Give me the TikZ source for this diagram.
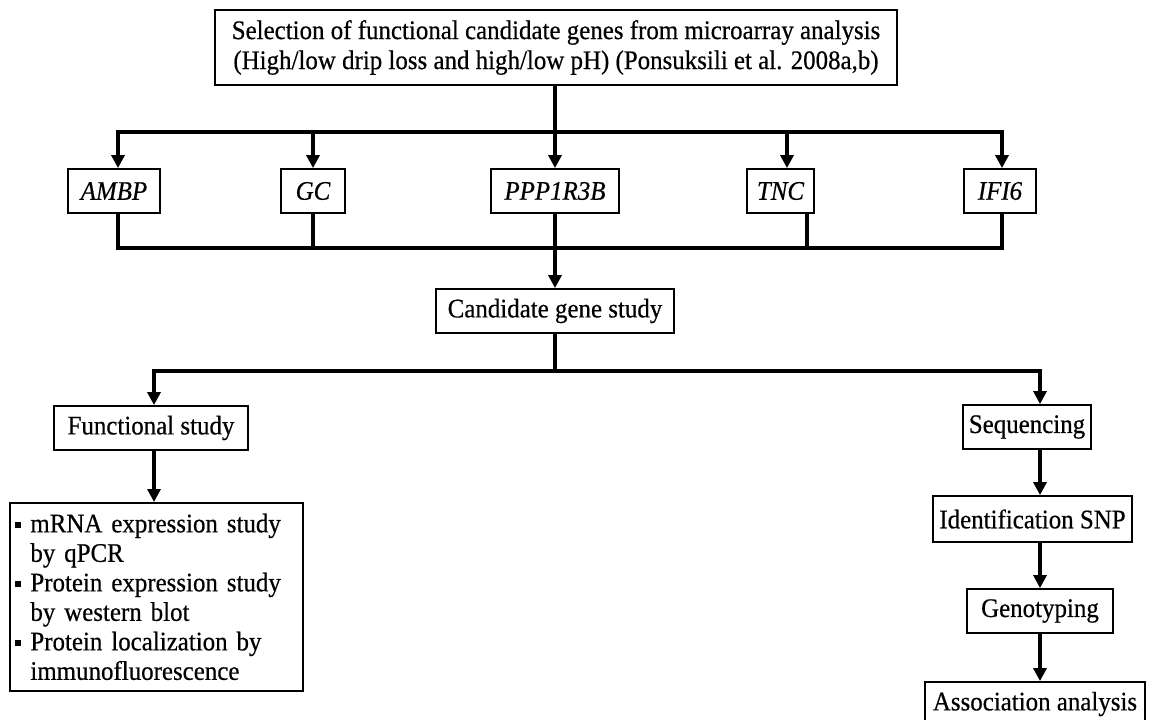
\documentclass[tikz,border=0pt]{standalone}
\usepackage{fontspec}
\setmainfont[FakeStretch=0.93,FakeBold=0.5]{Liberation Serif}
\usetikzlibrary{arrows.meta}
\newcommand{\sqbul}{\rule[4pt]{6pt}{6pt}\hspace{9.5pt}}
\newcommand{\hangsp}{\hspace*{15.5pt}}
\begin{document}
\begin{tikzpicture}[x=1pt,y=-1pt,
  box/.style={draw=black, line width=1.8pt, inner sep=0pt, font=\fontsize{26.8}{30}\selectfont, align=center},
  gene/.style={box, font=\fontsize{26.8}{30}\selectfont\itshape, minimum height=44pt},
  conn/.style={draw=black, line width=3.2pt},
  arr/.style={conn, -{Triangle[width=13pt,length=13pt]}}]
\useasboundingbox (0,0) rectangle (1154,720);
\clip (0,0) rectangle (1154,720);

% nodes
\node[box, minimum width=682pt, minimum height=75pt] (top) at (556,47.5)
  {Selection of functional candidate genes from microarray analysis\\(High/low drip loss and high/low pH) (Ponsuksili et al. 2008a,b)};
\node[gene, minimum width=92pt]  (ambp) at (114,191) {AMBP};
\node[gene, minimum width=64pt]  (gc)   at (313,191) {GC};
\node[gene, minimum width=128pt] (ppp)  at (555,191) {PPP1R3B};
\node[gene, minimum width=67pt]  (tnc)  at (780.5,191) {TNC};
\node[gene, minimum width=72pt]  (ifi)  at (1000,191) {IFI6};
\node[box, minimum width=238pt, minimum height=44pt] (cand) at (555,311) {Candidate gene study};
\node[box, minimum width=194pt, minimum height=44pt] (func) at (151,428) {Functional study};
\node[box, anchor=north west, text width=283pt, inner xsep=5pt, minimum height=188pt, align=left,
      font=\fontsize{26.8}{29.5}\selectfont] (list) at (9,502)
  {\sqbul mRNA expression study\\\hangsp by qPCR\\\sqbul Protein expression study\\\hangsp by western blot\\\sqbul Protein localization by\\\hangsp immunofluorescence};
\node[box, minimum width=128pt, minimum height=44pt] (seq)   at (1027,427) {Sequencing};
\node[box, minimum width=199pt, minimum height=46pt] (ident) at (1032.5,519) {Identification SNP};
\node[box, minimum width=146pt, minimum height=44pt] (geno)  at (1040,611) {Genotyping};
\node[box, minimum width=220pt, minimum height=44pt] (assoc) at (1035,704) {Association analysis};

% bus coordinates
\coordinate (b1L) at (118,132);
\coordinate (b1R) at (1002,132);
\coordinate (b1T) at (787,132);
\coordinate (b2L) at (118,248);
\coordinate (b2R) at (1002,248);
\coordinate (b2T) at (807,248);
\coordinate (b3L) at (154,371);
\coordinate (b3R) at (1040,371);

% top to gene row
\draw[conn] (ppp.north |- top.south) -- (ppp.north |- b1L);
\draw[conn, line cap=rect] (b1L) -- (b1R);
\draw[arr] (b1L) -- (b1L |- ambp.north);
\draw[arr] (gc.north |- b1L) -- (gc.north);
\draw[arr] (ppp.north |- b1L) -- (ppp.north);
\draw[arr] (b1T) -- (b1T |- tnc.north);
\draw[arr] (b1R) -- (b1R |- ifi.north);

% gene row to candidate
\draw[conn] (b2L |- ambp.south) -- (b2L) -- (b2R) -- (b2R |- ifi.south);
\draw[conn] (gc.south) -- (gc.south |- b2L);
\draw[conn] (b2T |- tnc.south) -- (b2T);
\draw[arr] (ppp.south) -- (ppp.south |- cand.north);

% candidate to branches
\draw[conn] (cand.south) -- (cand.south |- b3L);
\draw[conn, line cap=rect] (b3L) -- (b3R);
\draw[arr] (b3L) -- (b3L |- func.north);
\draw[arr] (b3R) -- (b3R |- seq.north);

% functional branch
\draw[arr] (b3L |- func.south) -- (b3L |- list.north);

% sequencing branch
\draw[arr] (b3R |- seq.south) -- (b3R |- ident.north);
\draw[arr] (b3R |- ident.south) -- (b3R |- geno.north);
\draw[arr] (geno.south) -- (geno.south |- assoc.north);
\end{tikzpicture}
\end{document}
